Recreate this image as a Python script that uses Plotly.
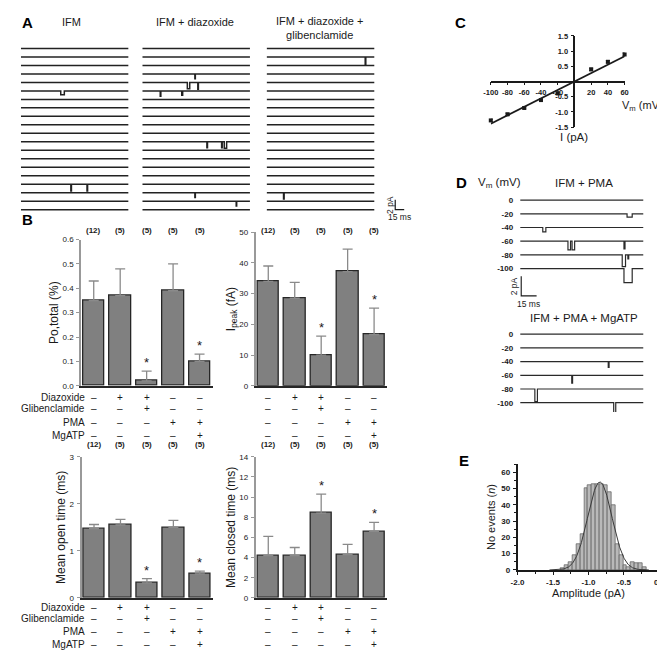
import numpy as np
import plotly.graph_objects as go

W, H = 665, 657
FONT = "Liberation Sans"
INK = "#1a1a1a"


def px(x):
    return x / W


def py(y):
    return 1 - y / H


# ---------------- Panel A : single-channel sweeps ----------------
A_TITLES = ["IFM", "IFM + diazoxide", "IFM + diazoxide +<br>glibenclamide"]
A_N_SWEEPS = 20
A_SWEEP_GAP_PA = 1.72
A_SWEEP_MS = 180
# (sweep index, start ms, duration ms, amplitude pA)
A_EVENTS_IFM = [(5, 66.6, 6.0, 0.8), (16, 83.5, 1.0, 1.4), (16, 110.5, 1.0, 1.4)]
A_EVENTS_DIAZ = [(3, 87.9, 0.8, 1.0), (4, 75.3, 4.0, 1.3), (4, 92.8, 1.0, 1.4),
                 (5, 30.0, 1.0, 1.1), (5, 66.0, 1.5, 0.9), (11, 108.0, 1.0, 1.2),
                 (11, 132.6, 1.0, 1.2), (11, 137.0, 4.0, 1.3), (17, 87.9, 0.8, 1.0),
                 (18, 157.0, 0.8, 1.0)]
A_EVENTS_GLIB = [(1, 164.8, 1.0, 1.6), (17, 28.3, 1.0, 1.3)]
A_SCALE_PA = 2
A_SCALE_MS = 15

# ---------------- Panel B : bar charts ----------------
CONDITIONS = ["IFM", "IFM + diazoxide", "IFM + diazoxide + glibenclamide",
              "IFM + PMA", "IFM + PMA + MgATP"]
N_LABELS = ["(12)", "(5)", "(5)", "(5)", "(5)"]
TREATMENT_NAMES = ["Diazoxide", "Glibenclamide", "PMA", "MgATP"]
DIAZOXIDE = ["–", "+", "+", "–", "–"]
GLIBENCLAMIDE = ["–", "–", "+", "–", "–"]
PMA = ["–", "–", "–", "+", "+"]
MGATP = ["–", "–", "–", "–", "+"]
SIGNIFICANT = [False, False, True, False, True]

PO_MEAN = [0.35, 0.37, 0.02, 0.39, 0.10]
PO_ERR = [0.08, 0.11, 0.04, 0.11, 0.03]
IPEAK_MEAN = [34.0, 28.5, 10.0, 37.2, 16.7]
IPEAK_ERR = [5.0, 5.2, 6.2, 7.3, 8.6]
OPEN_MEAN = [1.47, 1.55, 0.32, 1.50, 0.51]
OPEN_ERR = [0.09, 0.12, 0.09, 0.15, 0.06]
CLOSED_MEAN = [4.2, 4.2, 8.4, 4.3, 6.6]
CLOSED_ERR = [1.9, 0.8, 1.9, 1.0, 0.9]

# ---------------- Panel C : I-V relation ----------------
IV_VM = [-100, -80, -60, -40, -20, 20, 40, 60]
IV_I = [-1.28, -1.08, -0.87, -0.61, -0.39, 0.40, 0.65, 0.89]
IV_ERR = [0.04, 0.04, 0.03, 0.03, 0.04, 0.04, 0.04, 0.05]
IV_SLOPE = 0.01388   # pA/mV
IV_INTERCEPT = 0.0
C_XTICKS = [-100, -80, -60, -40, -20, 20, 40, 60]
C_YTICKS = [-1.5, -1.0, -0.5, 0.5, 1.0, 1.5]

# ---------------- Panel D : sweeps at different voltages ----------------
D_VM_LABELS = ["0", "-20", "-40", "-60", "-80", "-100"]
D_SWEEP_GAP_PA = 1.41
D_SWEEP_MS = 120
D_EVENTS_PMA = [(1, 104.0, 5.0, 0.35), (2, 22.0, 3.0, 0.45), (3, 46.5, 2.5, 0.9),
                (3, 50.5, 2.5, 0.9), (3, 101.0, 1.0, 0.8), (4, 99.3, 3.2, 1.2),
                (4, 104.8, 0.8, 0.4), (5, 101.0, 8.0, 1.45)]
D_EVENTS_MGATP = [(2, 85.7, 0.8, 0.6), (3, 50.2, 0.8, 0.8), (4, 14.3, 2.5, 1.3),
                  (5, 91.0, 2.0, 1.4)]
D_SCALE_PA = 2
D_SCALE_MS = 15

# ---------------- Panel E : amplitude histogram ----------------
HIST_CENTERS = [-1.365, -1.31, -1.255, -1.20, -1.145, -1.09, -1.035, -0.98, -0.925,
                -0.87, -0.815, -0.76, -0.705, -0.65, -0.595, -0.54, -0.485, -0.43,
                -0.375, -0.32, -0.265, -0.21]
HIST_COUNTS = [1, 3, 5, 9, 16, 22, 50, 52, 53, 53, 53, 52, 48, 40, 16, 9, 3, 2,
               5, 4, 4, 2]
HIST_BIN_W = 0.055
GAUSS_AMP = 54
GAUSS_MU = -0.84
GAUSS_SIGMA = 0.17
E_XTICKS = [-2.0, -1.5, -1.0, -0.5, 0.0]
E_YTICKS = [0, 10, 20, 30, 40, 50, 60]

fig = go.Figure()
layout = dict(width=W, height=H, margin=dict(l=0, r=0, t=0, b=0),
              paper_bgcolor="white", plot_bgcolor="white", showlegend=False,
              font=dict(family=FONT, color=INK, size=11), bargap=0)
ann = []


def axkey(n, a):
    return f"{a}axis" if n == 1 else f"{a}axis{n}"


def axref(n, a):
    return a if n == 1 else f"{a}{n}"


def sweeps(events, n_sweeps, gap, length):
    xs, ys = [], []
    for i in range(n_sweeps):
        off = -i * gap
        xx, yy = [0], [off]
        for (s, t, d, a) in sorted(e for e in events if e[0] == i):
            xx += [t, t, t + d, t + d]
            yy += [off, off - a, off - a, off]
        xx.append(length)
        yy.append(off)
        xs += xx + [None]
        ys += yy + [None]
    return xs, ys


def letter(t, x, y):
    ann.append(dict(text=f"<b>{t}</b>", x=px(x), y=py(y), xref="paper", yref="paper",
                    showarrow=False, font=dict(size=15, family=FONT, color="black"),
                    xanchor="center", yanchor="middle"))


def ptext(t, x, y, size=11, **kw):
    d = dict(text=t, x=px(x), y=py(y), xref="paper", yref="paper", showarrow=False,
             font=dict(size=size, family=FONT, color=INK), xanchor="center",
             yanchor="middle")
    d.update(kw)
    ann.append(d)


# ---------- Panel A ----------
A_PX_PER_MS = 110 / A_SWEEP_MS
a_cols = [(A_EVENTS_IFM, 5, 115), (A_EVENTS_DIAZ, 129, 239), (A_EVENTS_GLIB, 256, 400)]
a_title_x = [57, 183, 310]
ylo = -(A_N_SWEEPS - 1) * A_SWEEP_GAP_PA - 1.6
for k, (ev, x0, x1) in enumerate(a_cols):
    n = k + 1
    xs, ys = sweeps(ev, A_N_SWEEPS, A_SWEEP_GAP_PA, A_SWEEP_MS)
    fig.add_trace(go.Scatter(x=xs, y=ys, mode="lines", line=dict(color="#222222", width=1.5),
                             xaxis=axref(n, "x"), yaxis=axref(n, "y"), hoverinfo="skip"))
    layout[axkey(n, "x")] = dict(domain=[px(x0), px(x1)], range=[0, (x1 - x0) / A_PX_PER_MS],
                                 visible=False, anchor=axref(n, "y"))
    layout[axkey(n, "y")] = dict(domain=[py(208.4), py(29)], range=[ylo, 1.6],
                                 visible=False, anchor=axref(n, "x"))
# scale bar for A (in column-3 coordinates)
sb_x = A_SWEEP_MS + 35
sb_y = ylo + 1.6
fig.add_trace(go.Scatter(x=[sb_x, sb_x, sb_x + A_SCALE_MS],
                         y=[sb_y + A_SCALE_PA, sb_y, sb_y], mode="lines",
                         line=dict(color=INK, width=1.2), xaxis="x3", yaxis="y3",
                         hoverinfo="skip"))
ann.append(dict(text=f"{A_SCALE_PA} pA", x=sb_x, y=sb_y + A_SCALE_PA / 2, xref="x3", yref="y3",
                textangle=-90, showarrow=False, xshift=-6, borderpad=0,
                font=dict(size=8.5, family=FONT)))
ann.append(dict(text=f"{A_SCALE_MS} ms", x=sb_x + A_SCALE_MS / 2, y=sb_y, xref="x3", yref="y3",
                showarrow=False, yshift=-7, borderpad=0, font=dict(size=8.5, family=FONT)))
letter("A", 12, 11)
for t, x in zip(A_TITLES, a_title_x):
    ptext(t, x, 10 if "<br>" not in t else 16.5, size=11, yanchor="middle")

# ---------- Panel B ----------
treat_rows = [DIAZOXIDE, GLIBENCLAMIDE, PMA, MGATP]


def bar_chart(n, means, errs, xdom, ydom, ymax, dtick, fmt, title, sign_y, n_y, row_labels):
    xr, yr = axref(n, "x"), axref(n, "y")
    fig.add_trace(go.Bar(x=CONDITIONS, y=means, width=0.81,
                         marker=dict(color="#808080", line=dict(color="#262626", width=1.3)),
                         error_y=dict(type="data", array=errs, arrayminus=[0] * len(errs),
                                      symmetric=False, color="#8a8a8a", thickness=1.3, width=5),
                         xaxis=xr, yaxis=yr, hoverinfo="skip"))
    layout[axkey(n, "x")] = dict(domain=xdom, range=[-0.47, 4.5], type="category",
                                 categoryorder="array", categoryarray=CONDITIONS,
                                 showticklabels=False, ticks="", showline=True,
                                 linecolor="#262626", linewidth=1.5, showgrid=False,
                                 zeroline=False, anchor=yr)
    layout[axkey(n, "y")] = dict(domain=ydom, range=[0, ymax], dtick=dtick, tickformat=fmt,
                                 ticks="outside", ticklen=3, tickcolor="#999999",
                                 showline=True, linecolor="#999999", linewidth=2,
                                 showgrid=False, zeroline=False, anchor=xr,
                                 ticklabelstandoff=1,
                                 tickfont=dict(size=8, family=FONT),
                                 title=dict(text=title, font=dict(size=12, family=FONT),
                                            standoff=1))
    for c, lab in zip(CONDITIONS, N_LABELS):
        ann.append(dict(text=f"<b>{lab}</b>", x=c, y=py(n_y), xref=xr, yref="paper",
                        showarrow=False, borderpad=0, font=dict(size=8, family=FONT)))
    for c, m, e, s in zip(CONDITIONS, means, errs, SIGNIFICANT):
        if s:
            ann.append(dict(text="*", x=c, y=m + e, xref=xr, yref=yr, showarrow=False,
                            yanchor="bottom", yshift=0, borderpad=0,
                            font=dict(size=13, family=FONT)))
    for row, yy, name in zip(treat_rows, sign_y, TREATMENT_NAMES):
        for c, sgn in zip(CONDITIONS, row):
            ann.append(dict(text=sgn, x=c, y=py(yy), xref=xr, yref="paper", showarrow=False,
                            borderpad=0, font=dict(size=10, family=FONT)))
        if row_labels:
            ann.append(dict(text=name, x=px(71.5), y=py(yy), xref="paper", yref="paper",
                            xanchor="right", showarrow=False, borderpad=0,
                            font=dict(size=10, family=FONT)))


top_sign_y = [391, 402.3, 416, 429.3]
bot_sign_y = [610, 621.7, 635, 648.3]
bar_chart(4, PO_MEAN, PO_ERR, [px(66.7), px(201)], [py(379), py(230.7)], 0.6, 0.1, ".1f",
          "Po,total (%)", top_sign_y, 215.7, True)
bar_chart(5, IPEAK_MEAN, IPEAK_ERR, [px(245), px(379.3)], [py(379), py(223.3)], 50, 10, "d",
          "I<sub>peak</sub> (fA)", top_sign_y, 215.7, False)
bar_chart(6, OPEN_MEAN, OPEN_ERR, [px(67), px(201.3)], [py(594), py(451)], 3, 1, "d",
          "Mean open time (ms)", bot_sign_y, 444, True)
bar_chart(7, CLOSED_MEAN, CLOSED_ERR, [px(245), px(379.3)], [py(594), py(451)], 14, 2, "d",
          "Mean closed time (ms)", bot_sign_y, 444, False)
letter("B", 12, 210)

# ---------- Panel C ----------
fig.add_trace(go.Scatter(x=IV_VM, y=IV_I, mode="markers",
                         marker=dict(symbol="square", size=4, color=INK),
                         error_y=dict(array=IV_ERR, color=INK, thickness=1, width=2),
                         xaxis="x8", yaxis="y8", cliponaxis=False, hoverinfo="skip"))
lx = [min(IV_VM), max(IV_VM)]
fig.add_trace(go.Scatter(x=lx, y=[IV_SLOPE * v + IV_INTERCEPT for v in lx], mode="lines",
                         line=dict(color=INK, width=1.8), xaxis="x8", yaxis="y8",
                         hoverinfo="skip"))
cax = dict(showline=True, linecolor=INK, linewidth=1.6, ticks="outside", ticklen=3,
           tickcolor=INK, showgrid=False, zeroline=False, anchor="free",
           tickfont=dict(size=7.5, family=FONT))
layout["xaxis8"] = dict(cax, domain=[px(485), px(621.7)], range=[-100, 60],
                        position=py(70.5), tickvals=C_XTICKS, ticklabelstandoff=1,
                        ticktext=[f"<b>{v}</b>" for v in C_XTICKS])
layout["yaxis8"] = dict(cax, domain=[py(116.7), py(24.3)], range=[-1.5, 1.5],
                        position=px(570.4), tickvals=C_YTICKS, ticklabelstandoff=1,
                        ticktext=[f"<b>{v:.1f}</b>" for v in C_YTICKS])
letter("C", 454, 11)
ptext("V<sub>m</sub> (mV)", 662, 95, size=11, xanchor="right", borderpad=0)
ptext("I (pA)", 570, 127, size=11.5, borderpad=0)

# ---------- Panel D ----------
d_blocks = [(9, D_EVENTS_PMA, 190.7, 291.2, -10.2), (10, D_EVENTS_MGATP, 326.7, 405.5, -8.0)]
for n, ev, y0, ybot, lo in d_blocks:
    xr, yr = axref(n, "x"), axref(n, "y")
    xs, ys = sweeps(ev, len(D_VM_LABELS), D_SWEEP_GAP_PA, D_SWEEP_MS)
    fig.add_trace(go.Scatter(x=xs, y=ys, mode="lines", line=dict(color="#2a2a2a", width=1.2),
                             xaxis=xr, yaxis=yr, hoverinfo="skip"))
    ytop = y0 - 0.8 * (ybot - y0) / (0 - lo)
    layout[axkey(n, "x")] = dict(domain=[px(515), px(641)], range=[0, D_SWEEP_MS],
                                 visible=False, anchor=yr)
    layout[axkey(n, "y")] = dict(domain=[py(ybot), py(ytop)], range=[lo, 0.8],
                                 tickvals=[-i * D_SWEEP_GAP_PA for i in range(len(D_VM_LABELS))],
                                 ticktext=[f"<b>{t}</b>" for t in D_VM_LABELS],
                                 ticks="", showline=False, showgrid=False, zeroline=False,
                                 ticklabelstandoff=6, tickfont=dict(size=8, family=FONT),
                                 anchor=xr)
dsb_y = -9.85
fig.add_trace(go.Scatter(x=[1, 1, 1 + D_SCALE_MS], y=[dsb_y + D_SCALE_PA, dsb_y, dsb_y],
                         mode="lines", line=dict(color=INK, width=1.2), xaxis="x9", yaxis="y9",
                         hoverinfo="skip"))
ann.append(dict(text=f"{D_SCALE_PA} pA", x=1, y=dsb_y + D_SCALE_PA / 2, xref="x9", yref="y9",
                textangle=-90, showarrow=False, xshift=-7, borderpad=0,
                font=dict(size=8.5, family=FONT)))
ann.append(dict(text=f"{D_SCALE_MS} ms", x=1 + D_SCALE_MS / 2, y=dsb_y, xref="x9", yref="y9",
                showarrow=False, yshift=-8, borderpad=0, font=dict(size=8.5, family=FONT)))
letter("D", 455, 173)
ptext("V<sub>m</sub> (mV)", 494, 173, size=11.5)
ptext("IFM + PMA", 580, 173, size=11.5)
ptext("IFM + PMA + MgATP", 580, 310, size=11.5)

# ---------- Panel E ----------
fig.add_trace(go.Bar(x=HIST_CENTERS, y=HIST_COUNTS, width=HIST_BIN_W,
                     marker=dict(color="#b9b9b9", line=dict(color="#5a5a5a", width=0.7)),
                     xaxis="x11", yaxis="y11", hoverinfo="skip"))
gx = np.linspace(-1.55, -0.15, 200)
gy = GAUSS_AMP * np.exp(-((gx - GAUSS_MU) ** 2) / (2 * GAUSS_SIGMA ** 2))
fig.add_trace(go.Scatter(x=gx, y=gy, mode="lines", line=dict(color="#3a3a3a", width=1),
                         xaxis="x11", yaxis="y11", hoverinfo="skip"))
eax = dict(showline=True, linecolor=INK, linewidth=1.6, ticks="outside", ticklen=3,
           tickcolor=INK, showgrid=False, zeroline=False, tickfont=dict(size=8, family=FONT),
           ticklabelstandoff=1)
layout["xaxis11"] = dict(eax, domain=[px(512.3), px(657.3)], range=[-2.0, 0.0], anchor="y11",
                         tickvals=E_XTICKS, ticktext=[f"<b>{v:.1f}</b>" for v in E_XTICKS],
                         minor=dict(ticks="outside", ticklen=2, dtick=0.25, tickcolor=INK),
                         title=dict(text="Amplitude (pA)", font=dict(size=11, family=FONT),
                                    standoff=0))
layout["yaxis11"] = dict(eax, domain=[py(565.7), py(458.4)], range=[0, 65], anchor="x11",
                         tickvals=E_YTICKS, ticktext=[f"<b>{v}</b>" for v in E_YTICKS],
                         minor=dict(ticks="outside", ticklen=2, dtick=5, tickcolor=INK),
                         title=dict(text="No events (<i>n</i>)", font=dict(size=11, family=FONT),
                                    standoff=3))
letter("E", 458, 455)

layout["annotations"] = ann
fig.update_layout(**layout)
fig.write_html("out.html")
